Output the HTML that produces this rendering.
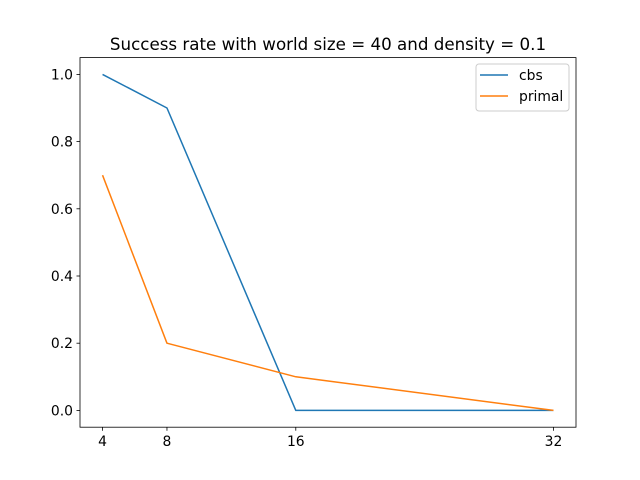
<!DOCTYPE html>
<html><head><meta charset="utf-8"><style>
body{margin:0;background:#fff;}
svg{display:block;font-family:"DejaVu Sans","Liberation Sans",sans-serif;}
</style></head><body>
<svg id="chart" width="640" height="480" viewBox="0 0 640 480">
<rect width="640" height="480" fill="#fff"/>
<text x="328" y="50" text-anchor="middle" font-size="16.7">Success rate with world size = 40 and density = 0.1</text>
<g id="axes"></g>
<g id="series"></g>
<rect x="80" y="57.6" width="496" height="369.6" fill="none" stroke="#000" stroke-width="0.8"/>
<g>
<rect x="476" y="64" width="93" height="47" rx="3" fill="#fff" fill-opacity="0.8" stroke="#ccc" stroke-width="1"/>
<line x1="480" y1="75" x2="508" y2="75" stroke="#1f77b4" stroke-width="1.5"/>
<text x="519" y="80" font-size="13.9">cbs</text>
<line x1="480" y1="96" x2="508" y2="96" stroke="#ff7f0e" stroke-width="1.5"/>
<text x="519" y="101" font-size="13.9">primal</text>
</g>
</svg>
<script>
const categories = [4, 8, 16, 32];
const cbsValues = [1.0, 0.9, 0.0, 0.0];
const primalValues = [0.7, 0.2, 0.1, 0.0];
const yTicks = [0.0, 0.2, 0.4, 0.6, 0.8, 1.0];
const yTickLabels = ["0.0", "0.2", "0.4", "0.6", "0.8", "1.0"];

const L = 80, R = 576, T = 57.6, B = 427.2;
const xMin = 2.6, xMax = 33.4, yMin = -0.05, yMax = 1.05;
function xs(v){ return L + (v - xMin) / (xMax - xMin) * (R - L); }
function ys(v){ return B - (v - yMin) / (yMax - yMin) * (B - T); }
const NS = "http://www.w3.org/2000/svg";
const axes = document.getElementById("axes");
const series = document.getElementById("series");

categories.forEach(c => {
  const t = document.createElementNS(NS, "line");
  t.setAttribute("x1", xs(c)); t.setAttribute("x2", xs(c));
  t.setAttribute("y1", B); t.setAttribute("y2", B + 3.5);
  t.setAttribute("stroke", "#000"); t.setAttribute("stroke-width", "0.8");
  
  
  axes.appendChild(t);
  const lb = document.createElementNS(NS, "text");
  lb.setAttribute("x", xs(c)); lb.setAttribute("y", B + 19);
  lb.setAttribute("text-anchor", "middle"); lb.setAttribute("font-size", "13.9");
  lb.textContent = c;
  
  
  axes.appendChild(lb);
});
yTicks.forEach((v, i) => {
  const t = document.createElementNS(NS, "line");
  t.setAttribute("x1", L - 3.5); t.setAttribute("x2", L);
  t.setAttribute("y1", ys(v)); t.setAttribute("y2", ys(v));
  t.setAttribute("stroke", "#000"); t.setAttribute("stroke-width", "0.8");
  
  
  axes.appendChild(t);
  const lb = document.createElementNS(NS, "text");
  lb.setAttribute("x", L - 7); lb.setAttribute("y", ys(v) + 5);
  lb.setAttribute("text-anchor", "end"); lb.setAttribute("font-size", "13.9");
  lb.textContent = yTickLabels[i];
  
  
  axes.appendChild(lb);
});
function drawLine(vals, color, name){
  const p = document.createElementNS(NS, "polyline");
  p.setAttribute("points", vals.map((v, i) => xs(categories[i]) + "," + ys(v)).join(" "));
  p.setAttribute("fill", "none"); p.setAttribute("stroke", color);
  p.setAttribute("stroke-width", "1.5"); p.setAttribute("stroke-linejoin", "round");
  
  
  series.appendChild(p);
}
drawLine(cbsValues, "#1f77b4", "cbs-line");
drawLine(primalValues, "#ff7f0e", "primal-line");
</script>
</body></html>
